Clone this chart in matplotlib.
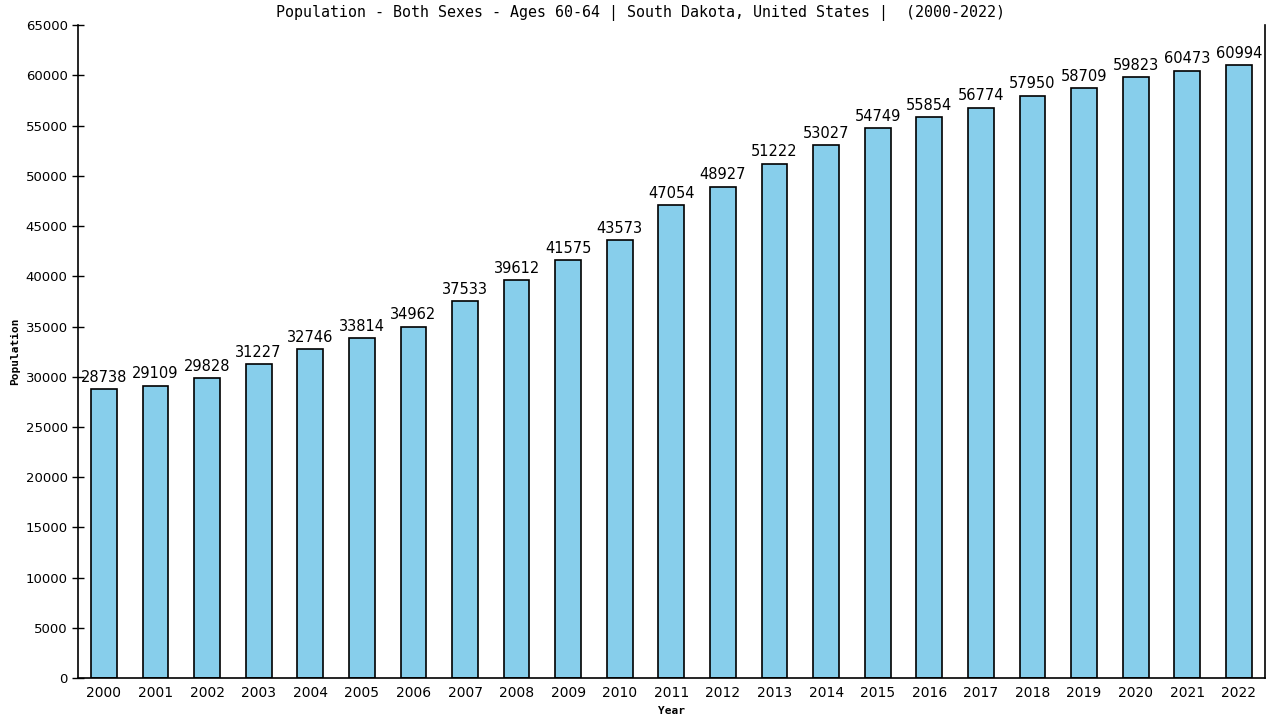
import matplotlib
matplotlib.use("Agg")
import matplotlib.pyplot as plt

years = [str(y) for y in range(2000, 2023)]
population = [28738, 29109, 29828, 31227, 32746, 33814, 34962, 37533, 39612, 41575,
              43573, 47054, 48927, 51222, 53027, 54749, 55854, 56774, 57950, 58709,
              59823, 60473, 60994]

plt.rcParams['font.family'] = ['DejaVu Sans']

fig = plt.figure(figsize=(12.8, 7.2), dpi=100)
ax = fig.add_axes([0.061, 0.0583, 0.927, 0.9067])

x = range(len(years))
ax.bar(x, population, width=0.5, color='#87CEEB', edgecolor='black', linewidth=1.2)
for i, v in zip(x, population):
    ax.text(i, v + 450, str(v), ha='center', va='bottom', fontsize=10.5)

ax.set_xlim(-0.5, len(years) - 0.5)
ax.set_ylim(0, 65000)
ax.set_yticks(range(0, 65001, 5000))
ax.set_xticks(list(x))
ax.set_xticklabels(years)
ax.tick_params(axis='y', labelsize=9.5, direction='inout', length=8, width=1)
ax.tick_params(axis='x', labelsize=10, length=0, pad=6)
ax.spines['top'].set_visible(False)
for s in ['left', 'right', 'bottom']:
    ax.spines[s].set_linewidth(1.2)

fig.text(0.5, 0.982, "Population - Both Sexes - Ages 60-64 | South Dakota, United States |  (2000-2022)",
         ha='center', va='center', fontsize=10.8, family='DejaVu Sans Mono')
ax.set_xlabel("Year", fontsize=8, fontweight='bold', family='DejaVu Sans Mono', labelpad=4)
ax.set_ylabel("Population", fontsize=8, fontweight='bold', family='DejaVu Sans Mono', labelpad=4)

fig.savefig("out.png", dpi=100)
